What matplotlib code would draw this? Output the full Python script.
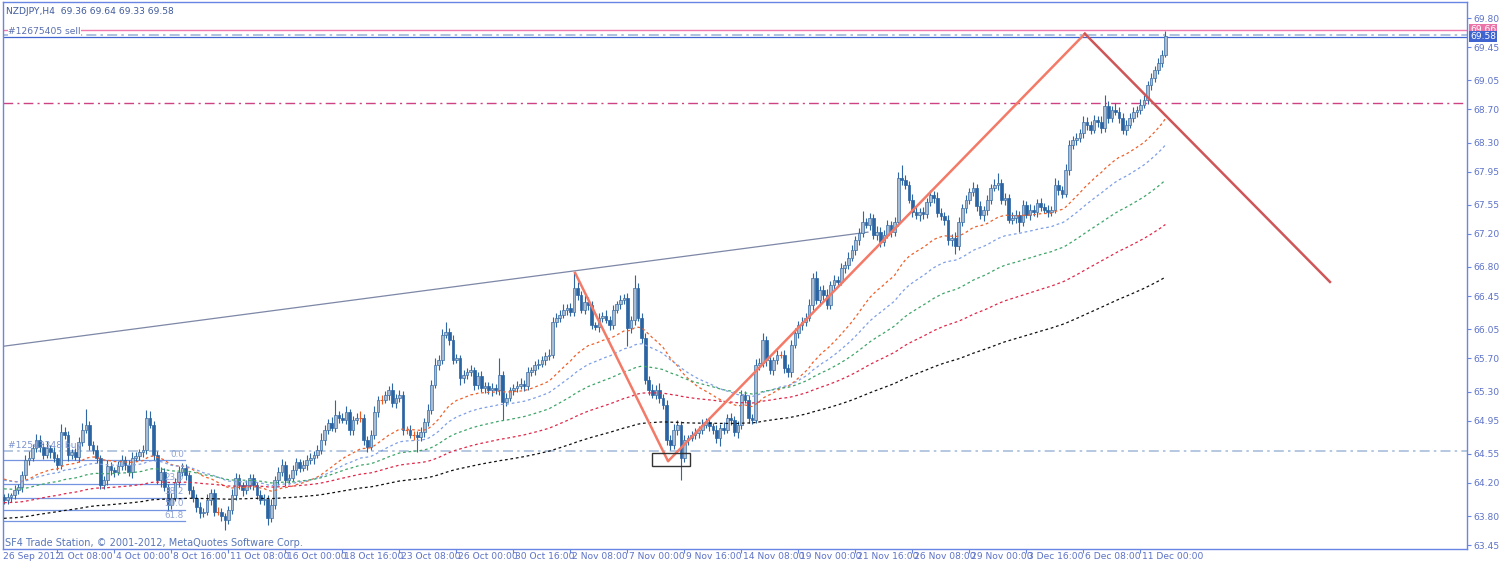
import numpy as np
import matplotlib
matplotlib.use("Agg")
import matplotlib.pyplot as plt
import matplotlib.transforms as mtransforms
from matplotlib.patches import Rectangle

# ---------------- data ----------------
title_text = "NZDJPY,H4  69.36 69.64 69.33 69.58"
footer_text = "SF4 Trade Station, \u00a9 2001-2012, MetaQuotes Software Corp."

first_open = 64.03
closes = [
    63.99, 64.03, 64.05, 64.11, 64.15, 64.29, 64.48, 64.50, 64.62, 64.72,
    64.63, 64.54, 64.62, 64.57, 64.50, 64.41, 64.81, 64.78, 64.54, 64.57,
    64.51, 64.69, 64.84, 64.90, 64.66, 64.60, 64.50, 64.17, 64.23, 64.40,
    64.35, 64.33, 64.40, 64.48, 64.41, 64.33, 64.50, 64.52, 64.57, 64.60,
    64.98, 64.90, 64.54, 64.23, 64.33, 64.15, 63.93, 64.02, 64.21, 64.33,
    64.38, 64.29, 64.11, 64.02, 63.91, 63.84, 63.85, 63.99, 64.08, 63.85,
    63.85, 63.80, 63.75, 63.87, 64.05, 64.26, 64.17, 64.11, 64.17, 64.26,
    64.17, 64.05, 63.99, 64.01, 63.78, 63.93, 64.23, 64.33, 64.41, 64.23,
    64.26, 64.35, 64.45, 64.38, 64.41, 64.48, 64.50, 64.54, 64.60, 64.72,
    64.84, 64.92, 64.86, 65.02, 64.98, 64.96, 65.05, 64.84, 64.96, 64.98,
    64.98, 64.72, 64.63, 64.78, 65.05, 65.20, 65.20, 65.26, 65.32, 65.16,
    65.22, 65.26, 64.84, 64.84, 64.78, 64.78, 64.75, 64.81, 64.93, 65.08,
    65.38, 65.62, 65.68, 65.98, 66.02, 65.92, 65.68, 65.70, 65.46, 65.50,
    65.53, 65.56, 65.38, 65.49, 65.34, 65.37, 65.32, 65.34, 65.32, 65.50,
    65.17, 65.22, 65.32, 65.34, 65.37, 65.39, 65.37, 65.53, 65.56, 65.62,
    65.63, 65.68, 65.73, 65.74, 66.14, 66.19, 66.22, 66.28, 66.31, 66.26,
    66.55, 66.46, 66.28, 66.38, 66.34, 66.10, 66.08, 66.19, 66.21, 66.16,
    66.10, 66.28, 66.35, 66.40, 66.43, 66.06, 66.16, 66.55, 66.19, 65.94,
    65.44, 65.32, 65.26, 65.32, 65.22, 65.14, 64.72, 64.66, 64.84, 64.90,
    64.50, 64.72, 64.74, 64.78, 64.80, 64.84, 64.90, 64.93, 64.88, 64.84,
    64.74, 64.86, 64.84, 64.98, 64.96, 64.81, 64.90, 65.26, 65.20, 64.98,
    64.96, 65.62, 65.64, 65.92, 65.68, 65.56, 65.68, 65.74, 65.74, 65.58,
    65.53, 65.86, 66.00, 66.10, 66.14, 66.19, 66.34, 66.67, 66.40, 66.52,
    66.46, 66.34, 66.58, 66.64, 66.62, 66.79, 66.82, 66.91, 67.00, 67.12,
    67.21, 67.34, 67.31, 67.39, 67.19, 67.22, 67.10, 67.19, 67.31, 67.22,
    67.34, 67.87, 67.85, 67.79, 67.61, 67.46, 67.43, 67.46, 67.44, 67.58,
    67.67, 67.63, 67.45, 67.41, 67.37, 67.12, 67.15, 67.05, 67.34, 67.51,
    67.61, 67.70, 67.75, 67.53, 67.43, 67.49, 67.61, 67.75, 67.79, 67.81,
    67.61, 67.63, 67.37, 67.39, 67.43, 67.34, 67.55, 67.43, 67.49, 67.46,
    67.57, 67.52, 67.49, 67.46, 67.49, 67.79, 67.73, 67.68, 67.97, 68.27,
    68.33, 68.35, 68.41, 68.55, 68.51, 68.45, 68.57, 68.55, 68.47, 68.74,
    68.60, 68.69, 68.67, 68.60, 68.45, 68.51, 68.60, 68.67, 68.69, 68.75,
    68.81, 68.99, 69.08, 69.17, 69.26, 69.36, 69.58,
]
# wick lengths above / below the body, in pips (0.01)
upper_wick_pips = [
    4, 5, 3, 6, 4, 5, 6, 8, 5, 7,
    6, 5, 8, 4, 6, 5, 10, 6, 5, 4,
    5, 6, 8, 19, 5, 4, 6, 4, 5, 7,
    5, 4, 6, 5, 4, 6, 7, 5, 4, 6,
    10, 8, 5, 4, 6, 5, 4, 6, 5, 7,
    6, 5, 4, 5, 4, 6, 5, 8, 5, 4,
    6, 5, 4, 5, 7, 6, 5, 4, 6, 5,
    5, 4, 6, 5, 4, 7, 5, 6, 8, 5,
    4, 6, 5, 4, 7, 5, 6, 4, 5, 8,
    6, 5, 7, 18, 5, 6, 8, 4, 5, 6,
    8, 5, 4, 6, 7, 5, 6, 4, 5, 8,
    5, 6, 4, 5, 6, 5, 4, 6, 5, 7,
    6, 8, 6, 7, 12, 5, 6, 5, 4, 6,
    5, 6, 4, 5, 6, 5, 4, 6, 5, 20,
    5, 6, 4, 5, 6, 7, 5, 6, 4, 5,
    6, 5, 4, 7, 6, 5, 6, 8, 5, 6,
    19, 7, 5, 8, 6, 5, 4, 6, 5, 7,
    5, 6, 4, 6, 5, 6, 5, 15, 6, 5,
    6, 5, 7, 6, 8, 5, 6, 5, 7, 6,
    5, 6, 4, 5, 6, 5, 7, 5, 6, 4,
    6, 5, 7, 5, 6, 5, 4, 6, 5, 6,
    5, 7, 6, 8, 5, 6, 4, 6, 5, 6,
    5, 6, 7, 5, 6, 5, 7, 6, 8, 5,
    6, 7, 5, 6, 5, 6, 5, 7, 6, 5,
    6, 14, 5, 6, 5, 7, 6, 5, 6, 5,
    6, 8, 16, 6, 5, 7, 6, 5, 6, 5,
    6, 5, 7, 6, 5, 6, 5, 7, 6, 5,
    6, 5, 7, 5, 6, 5, 6, 5, 7, 12,
    5, 6, 5, 7, 6, 5, 6, 5, 7, 6,
    5, 6, 5, 6, 5, 8, 6, 5, 7, 6,
    5, 6, 5, 7, 6, 5, 6, 5, 7, 13,
    6, 5, 8, 6, 5, 6, 5, 6, 5, 7,
    6, 5, 6, 5, 6, 5, 6,
]
lower_wick_pips = [
    5, 4, 6, 5, 4, 6, 5, 7, 4, 5,
    6, 5, 4, 7, 5, 6, 4, 5, 8, 5,
    4, 6, 5, 4, 7, 5, 6, 5, 4, 6,
    5, 6, 4, 5, 6, 5, 7, 4, 5, 6,
    5, 4, 6, 5, 8, 5, 6, 5, 4, 6,
    5, 6, 4, 5, 6, 7, 5, 4, 6, 5,
    4, 6, 12, 5, 4, 6, 5, 7, 4, 5,
    6, 5, 4, 6, 9, 5, 4, 6, 5, 7,
    5, 4, 6, 5, 4, 6, 5, 7, 4, 5,
    6, 5, 4, 5, 6, 4, 5, 7, 6, 5,
    5, 6, 6, 4, 5, 6, 5, 4, 6, 5,
    6, 5, 7, 5, 4, 6, 18, 5, 6, 4,
    5, 4, 6, 5, 4, 6, 5, 4, 8, 6,
    5, 4, 6, 5, 4, 6, 5, 7, 5, 6,
    21, 5, 4, 6, 5, 4, 6, 5, 4, 6,
    5, 4, 6, 5, 4, 6, 5, 4, 6, 5,
    5, 6, 4, 5, 6, 5, 4, 6, 5, 4,
    6, 5, 4, 6, 5, 21, 5, 6, 4, 6,
    5, 6, 4, 5, 6, 5, 7, 6, 5, 6,
    27, 5, 6, 4, 5, 6, 5, 4, 6, 5,
    6, 10, 5, 4, 6, 5, 7, 5, 4, 6,
    5, 4, 6, 5, 7, 5, 6, 5, 4, 6,
    5, 6, 4, 5, 6, 5, 4, 6, 5, 7,
    6, 5, 4, 6, 5, 4, 6, 5, 4, 5,
    6, 5, 4, 6, 5, 7, 6, 5, 4, 6,
    5, 4, 6, 5, 4, 6, 5, 7, 6, 5,
    4, 6, 5, 4, 6, 5, 7, 9, 5, 4,
    6, 5, 4, 6, 5, 7, 6, 5, 4, 6,
    5, 6, 4, 5, 6, 12, 5, 4, 6, 5,
    6, 5, 4, 6, 5, 4, 6, 5, 4, 6,
    5, 6, 4, 5, 6, 5, 4, 6, 5, 4,
    6, 5, 4, 6, 5, 6, 4, 5, 6, 5,
    4, 5, 6, 5, 4, 5, 3,
]

# moving averages (EMA periods, starting values at the left edge)
ma_periods = [34, 55, 89, 144, 233]
ma_seeds = [64.26, 64.24, 64.13, 63.96, 63.77]
ma_colors = ["#f0602a", "#7f9fe6", "#3fa56a", "#e0284a", "#111111"]

# drawn objects (bar index, price)
trend_bars = [-1.1, 242.5]
trend_prices = [65.84, 67.22]
zz_bars = [160.3, 186.4, 303.4, 372.2]
zz_prices = [66.73, 64.46, 69.61, 66.62]
box_bars = [181.8, 192.6]
box_prices = [64.40, 64.56]

fib_bars = [-2.0, 50.8]
fib_high, fib_low = 64.47, 63.28
fib_levels = [0.0, 23.6, 38.2, 50.0, 61.8]

sell_price = 69.66
sell_open_line = 69.60
bid_price = 69.575
resist_price = 68.78
buy_price = 64.58
sell_label = "#12675405 sell"
buy_label = "#12543348 buy"

price_ticks = [69.80, 69.45, 69.05, 68.70, 68.30, 67.95, 67.55, 67.20, 66.80,
               66.45, 66.05, 65.70, 65.30, 64.95, 64.55, 64.20, 63.80, 63.45]
time_labels = ["1 Oct 08:00", "4 Oct 00:00", "8 Oct 16:00", "11 Oct 08:00",
               "16 Oct 00:00", "18 Oct 16:00", "23 Oct 08:00", "26 Oct 00:00",
               "30 Oct 16:00", "2 Nov 08:00", "7 Nov 00:00", "9 Nov 16:00",
               "14 Nov 08:00", "19 Nov 00:00", "21 Nov 16:00", "26 Nov 08:00",
               "29 Nov 00:00", "3 Dec 16:00", "6 Dec 08:00", "11 Dec 00:00"]
time_label_bars = [15, 31, 47, 63, 79, 95, 111, 127, 143, 159, 175, 191, 207,
                   223, 239, 255, 271, 287, 303, 319]
first_date_label = "26 Sep 2012"

# ---------------- figure ----------------
W, H = 1500, 565
fig = plt.figure(figsize=(W / 100, H / 100), dpi=100, facecolor="white")
ax = fig.add_axes([3 / W, (H - 549) / H, (1467 - 3) / W, (549 - 2) / H])
ax.set_facecolor("white")
left_tr = mtransforms.blended_transform_factory(ax.transAxes, ax.transData)

n = len(closes)
x = np.arange(n)
c = np.array(closes)
o = np.concatenate([[first_open], c[:-1]])
hi = np.maximum(o, c) + np.array(upper_wick_pips) / 100.0
lo = np.minimum(o, c) - np.array(lower_wick_pips) / 100.0

bull = c > o
bear = c < o
doji = c == o

wick_col = "#2f66a3"
ax.vlines(x[~doji], lo[~doji], hi[~doji], color=wick_col, lw=0.8, zorder=3)
ax.vlines(x[doji], lo[doji], hi[doji], color="#f05a1e", lw=0.8, zorder=3)
ax.bar(x[bull], (c - o)[bull], bottom=o[bull], width=0.74,
       color="#a9bcd1", edgecolor="#3a6ea5", linewidth=0.5, zorder=3)
ax.bar(x[bear], (o - c)[bear], bottom=c[bear], width=0.74,
       color="#2b64a2", edgecolor="#2b64a2", linewidth=0.5, zorder=3)
ax.hlines(c[doji], x[doji] - 0.45, x[doji] + 0.45, color="#f05a1e", lw=0.8, zorder=3)

# moving averages (exponential)
for period, seed, col in zip(ma_periods, ma_seeds, ma_colors):
    alpha = 2.0 / (period + 1)
    vals = []
    e = seed
    for v in closes:
        e = e + alpha * (v - e)
        vals.append(e)
    ax.plot(x, vals, color=col, lw=0.9, ls=(0, (2.2, 2.2)), zorder=4)

# horizontal lines
ax.axhline(sell_price, color="#f07aac", lw=1.0, zorder=2)
ax.axhline(sell_open_line, color="#9fb6d8", lw=1.2, ls=(0, (6, 2.5, 1.5, 2.5)), zorder=2)
ax.axhline(bid_price, color="#3f64d0", lw=0.9, zorder=2)
ax.axhline(resist_price, color="#cc4282", lw=1.0, ls=(0, (7, 3, 1.5, 3)), zorder=2)
ax.axhline(buy_price, color="#a9bfdc", lw=1.2, ls=(0, (6, 2.5, 1.5, 2.5)), zorder=2)

# trendline
ax.plot(trend_bars, trend_prices, color="#7d87a6", lw=0.9, zorder=2)

# zigzag
ax.plot(zz_bars[:3], zz_prices[:3], color="#f47a68", lw=1.8, zorder=5)
ax.plot(zz_bars[2:], zz_prices[2:], color="#cf5658", lw=1.8, zorder=5)

# rectangle
ax.add_patch(Rectangle((box_bars[0], box_prices[0]), box_bars[1] - box_bars[0],
                       box_prices[1] - box_prices[0], fill=False,
                       edgecolor="#333333", lw=1.0, zorder=6))

# fibonacci
fib_range = fib_high - fib_low
for lev in fib_levels:
    p = fib_high - fib_range * lev / 100.0
    ax.plot(fib_bars, [p, p], color="#7595e0", lw=0.9, zorder=2)
    ax.text(fib_bars[1] - 0.3, p + 0.02, "%.1f" % lev, color="#8fa3d6",
            fontsize=6.3, ha="right", va="bottom", zorder=6)

# texts
txt_font = dict(family="DejaVu Sans", fontsize=6.6)
ax.text(3 / 1464, 1 - 9 / 547, title_text, transform=ax.transAxes,
        color="#3f5a9c", ha="left", va="center", **txt_font)
ax.text(5 / 1464, sell_price - 0.02, sell_label, color="#5a6fb0",
        ha="left", va="center", zorder=7, transform=left_tr,
        bbox=dict(facecolor="white", edgecolor="none", pad=0.3), **txt_font)
ax.text(5 / 1464, buy_price + 0.07, buy_label, color="#7d93cf",
        ha="left", va="center", zorder=7, transform=left_tr, **txt_font)
ax.text(2 / 1464, 6 / 547, footer_text, transform=ax.transAxes,
        color="#5876b8", ha="left", va="center", family="DejaVu Sans", fontsize=7.0)

# axes
x_left = (3 - 4) / 3.5625
x_right = (1467 - 4) / 3.5625
ax.set_xlim(x_left, x_right)
ax.set_ylim(69.80 - (549 - 18) / 83.0, 69.80 + (18 - 2) / 83.0)

spine_col = "#6a86e4"
for s in ax.spines.values():
    s.set_color(spine_col)
    s.set_linewidth(1.0)

ax.yaxis.tick_right()
ax.set_yticks(price_ticks)
ax.set_yticklabels(["%.2f" % p for p in price_ticks])
ax.tick_params(axis="y", direction="out", length=3, width=0.8, color=spine_col,
               labelcolor="#5d72c8", labelsize=6.6, pad=1.5)

ax.set_xticks(time_label_bars)
ax.set_xticklabels([])
ax.tick_params(axis="x", direction="out", length=3, width=0.8, color=spine_col)
xt = mtransforms.blended_transform_factory(ax.transData, ax.transAxes)
for b, lab in zip(time_label_bars, time_labels):
    ax.text(b + 0.45, -0.006, lab, transform=xt, ha="left", va="top",
            color="#5d72c8", clip_on=False, **txt_font)
ax.text(x_left, -0.006, first_date_label, transform=xt, ha="left", va="top",
        color="#5d72c8", clip_on=False, **txt_font)

# price boxes on the right axis
right_tr = mtransforms.blended_transform_factory(ax.transAxes, ax.transData)
for price, label, face in [(sell_price, "69.66", "#ea74a8"), (bid_price, "69.58", "#3f64d0")]:
    ax.text(1.002, price, label, transform=right_tr,
            ha="left", va="center", color="white", fontsize=6.6, family="DejaVu Sans",
            clip_on=False, zorder=8,
            bbox=dict(facecolor=face, edgecolor="none", pad=0.6))

fig.savefig("out.png", dpi=100, facecolor="white")
